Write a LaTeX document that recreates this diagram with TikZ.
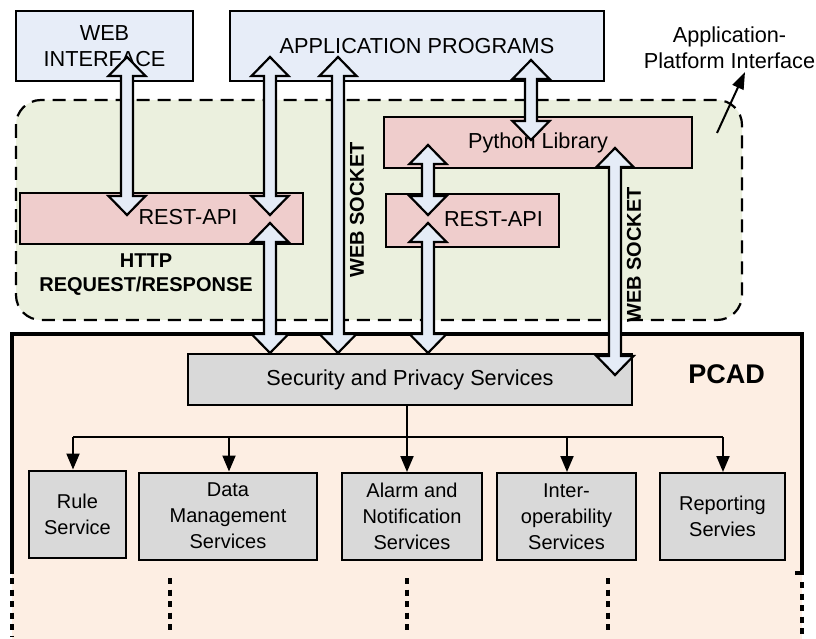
\documentclass[tikz,border=0pt]{standalone}
\usepackage{fontspec}
\setmainfont{Liberation Sans}
\usetikzlibrary{arrows.meta,calc}

\definecolor{ifblue}{RGB}{231,237,248}
\definecolor{mwgreen}{RGB}{235,240,222}
\definecolor{libpink}{RGB}{239,205,204}
\definecolor{pcadbg}{RGB}{253,238,227}
\definecolor{svcgray}{RGB}{217,217,217}
\definecolor{pipeblue}{RGB}{229,236,247}

\tikzset{
  txt/.style={font=\fontsize{21.7}{26}\selectfont, align=center},
  topbox/.style={draw, line width=2pt, fill=ifblue, inner sep=0pt, txt},
  libbox/.style={draw, line width=2pt, fill=libpink, inner sep=0pt, txt},
  secbox/.style={draw, line width=2pt, fill=svcgray, inner sep=0pt, txt},
  svcbox/.style={draw, line width=2pt, fill=svcgray, inner sep=0pt,
    font=\fontsize{20}{26}\selectfont, align=center},
  boldlbl/.style={font=\bfseries\fontsize{20}{24}\selectfont, align=center},
  vlabel/.style={boldlbl, rotate=90},
  pipe/.style={draw=black, line width=2.2pt, fill=pipeblue, line join=miter},
  tree/.style={line width=2pt},
  treearrow/.style={tree, -{Triangle[length=16pt,width=13pt]}},
  breakline/.style={line width=3.5pt, dash pattern=on 6pt off 5.5pt},
}

% hollow double-headed arrow between two points on one vertical line
\newcommand\pipearrow[2]{%
  \path[pipe] let \p1=(#1), \p2=(#2) in
    (\x1,\y1) -- (\x1+18.5pt,\y1-19pt) -- (\x1+6pt,\y1-19pt)
    -- (\x1+6pt,\y2+19pt) -- (\x1+18.5pt,\y2+19pt) -- (\x1,\y2)
    -- (\x1-18.5pt,\y2+19pt) -- (\x1-6pt,\y2+19pt)
    -- (\x1-6pt,\y1-19pt) -- (\x1-18.5pt,\y1-19pt) -- cycle;}

\begin{document}
\begin{tikzpicture}[x=1pt,y=-1pt]
\useasboundingbox (0,0) rectangle (816,639);

% middleware layer
\draw[line width=2.2pt, dash pattern=on 13pt off 8pt, rounded corners=25pt,
      fill=mwgreen] (16,100) rectangle (742,320);

% PCAD platform (open at the bottom)
\fill[pcadbg] (12,334) rectangle (802,639);
\draw[line width=3.5pt, line join=miter] (12,574) -- (12,334) -- (802,334) -- (802,573) -- (795,573);
\draw[breakline] (12,578) -- (12,636);
\draw[breakline] (802,582) -- (802,636);

% top-level clients
\node[topbox, minimum width=177pt, minimum height=70pt] (web) at (104.5,46) {WEB\\INTERFACE};
\node[topbox, minimum width=374pt, minimum height=70pt] (app) at (417,46) {APPLICATION PROGRAMS};

% middleware components
\node[libbox, minimum width=308pt, minimum height=51pt] (pylib) at (538,142.5) {Python Library};
\node[libbox, minimum width=283pt, minimum height=51pt] (rest1) at (161.5,218.5) {};
\node[txt] (rest1t) at (188,217.5) {REST-API};
\node[libbox, minimum width=173pt, minimum height=53pt] (rest2) at (472.5,220.5) {};
\node[txt] (rest2t) at (493.5,219.5) {REST-API};

\node[boldlbl] (http) at (146,275) {HTTP\\REQUEST/RESPONSE};

% PCAD services
\node[secbox, minimum width=444pt, minimum height=51pt] (sec) at (410,379.5) {Security and Privacy Services};
\node[font=\bfseries\fontsize{27}{30}\selectfont] (pcad) at (726.5,374) {PCAD};

\node[svcbox, minimum width=97pt, minimum height=87pt] (rule) at (77.5,514) {Rule\\Service};
\node[svcbox, minimum width=178pt, minimum height=87pt] (data) at (228,516) {Data\\Management\\Services};
\node[svcbox, minimum width=140pt, minimum height=87pt] (alarm) at (412,516.5) {Alarm and\\Notification\\Services};
\node[svcbox, minimum width=139pt, minimum height=87pt] (inter) at (566.5,516.5) {Inter-\\operability\\Services};
\node[svcbox, minimum width=125pt, minimum height=87pt] (report) at (722.5,516.5) {Reporting\\Servies};

% distribution from the security layer
\coordinate (b1) at (73,437);
\coordinate (b2) at (229,437);
\coordinate (b3) at (407,437);
\coordinate (b4) at (567,437);
\coordinate (b5) at (723,437);
\draw[tree] (sec.south -| b3) -- (b3);
\draw[tree] (b1) -- (b5);
\draw[treearrow] (b1) -- (b1 |- rule.north);
\draw[treearrow] (b2) -- (b2 |- data.north);
\draw[treearrow] (b3) -- (b3 |- alarm.north);
\draw[treearrow] (b4) -- (b4 |- inter.north);
\draw[treearrow] (b5) -- (b5 |- report.north);

% continuation marks below the services
\draw[breakline] (170,578) -- (170,632);
\draw[breakline] (407,578) -- (407,632);
\draw[breakline] (608,578) -- (608,632);

% communication channels
\coordinate (p1t) at (127,57);   \coordinate (p1b) at (127,215);
\coordinate (p2t) at (270,57);   \coordinate (p2b) at (270,215);
\coordinate (p3t) at (270,223);  \coordinate (p3b) at (270,353);
\coordinate (p4t) at (338,57);   \coordinate (p4b) at (338,353);
\coordinate (p5t) at (531,60);   \coordinate (p5b) at (531,140);
\coordinate (p6t) at (428,145);  \coordinate (p6b) at (428,215);
\coordinate (p7t) at (428,223);  \coordinate (p7b) at (428,353);
\coordinate (p8t) at (615,148);  \coordinate (p8b) at (615,375);
\pipearrow{p1t}{p1b}
\pipearrow{p2t}{p2b}
\pipearrow{p3t}{p3b}
\pipearrow{p4t}{p4b}
\pipearrow{p5t}{p5b}
\pipearrow{p6t}{p6b}
\pipearrow{p7t}{p7b}
\pipearrow{p8t}{p8b}

\node[vlabel] (ws1) at (357,210) {WEB SOCKET};
\node[vlabel] (ws2) at (634,255) {WEB SOCKET};

% interface annotation
\node[txt] (api) at (729.5,48) {Application-\\Platform Interface};
\coordinate (apiS) at (717,133);
\coordinate (apiE) at (745,72);
\draw[line width=2pt, -{Triangle[length=17pt,width=12pt]}] (apiS) -- (apiE);

\end{tikzpicture}
\end{document}
